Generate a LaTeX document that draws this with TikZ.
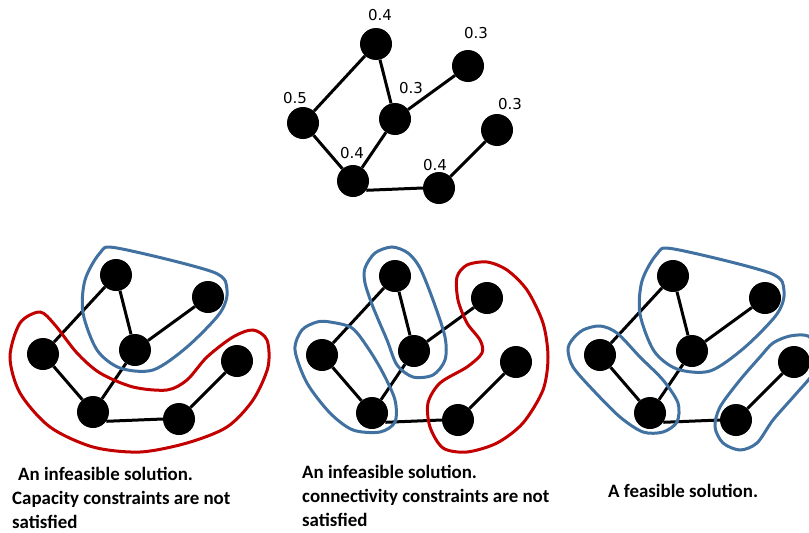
\documentclass[tikz,border=0pt]{standalone}
\usepackage{fontspec}
\setmainfont{Carlito}
\newfontfamily\labfont{DejaVu Sans}
\definecolor{blobblue}{RGB}{65,113,160}
\definecolor{blobred}{RGB}{195,0,0}
\tikzset{
  vtx/.style={circle, fill=black, minimum size=32pt, inner sep=0pt},
  edg/.style={line width=3pt, black},
  wlab/.style={font=\labfont\fontsize{15}{18}\selectfont, inner sep=0pt},
  bblob/.style={draw=blobblue, line width=3pt},
  rblob/.style={draw=blobred, line width=3pt},
  caption/.style={font=\bfseries\fontsize{18.9}{24}\selectfont, anchor=base west, inner sep=0pt},
}
\newcommand{\mygraph}[3]{%
  \begin{scope}[shift={(#2,#3)}]
    \node[vtx] (#1A) at (376,44) {};
    \node[vtx] (#1B) at (468,66) {};
    \node[vtx] (#1C) at (303,123) {};
    \node[vtx] (#1D) at (395,119) {};
    \node[vtx] (#1E) at (497,130) {};
    \node[vtx] (#1F) at (353,181) {};
    \node[vtx] (#1G) at (439,188) {};
    \draw[edg] (#1A) -- (#1C);
    \draw[edg] (#1A) -- (#1D);
    \draw[edg] (#1D) -- (#1B);
    \draw[edg] (#1C) -- (#1F);
    \draw[edg] (#1D) -- (#1F);
    \draw[edg] (#1F.-35) -- (#1G.west);
    \draw[edg] (#1G) -- (#1E);
  \end{scope}}
\begin{document}
\begin{tikzpicture}[x=1pt, y=-1pt]
\useasboundingbox (0,0) rectangle (809,533);
% top graph
\mygraph{t}{0}{0}
\node[wlab] (lA) at (380,15) {0.4};
\node[wlab] (lB) at (476,33) {0.3};
\node[wlab] (lC) at (295,98) {0.5};
\node[wlab] (lD) at (411,88) {0.3};
\node[wlab] (lE) at (510,104) {0.3};
\node[wlab] (lF) at (352,153) {0.4};
\node[wlab] (lG) at (435,165) {0.4};
% bottom graphs
\mygraph{a}{-260}{231}
\mygraph{b}{19}{232}
\mygraph{c}{297}{232}
% graph 1 blobs
\draw[bblob] plot[smooth cycle] coordinates {(100,253) (117,248) (213,272) (227,290) (220,313) (187,347) (153,370) (120,368) (97,350) (83,313) (85,280)};
\draw[rblob] plot[smooth cycle] coordinates {(40,312) (55,325) (77,353) (100,373) (133,387) (167,390) (187,380) (207,357) (233,337) (253,330) (267,340) (268,367) (253,400) (227,427) (187,443) (140,452) (93,447) (50,427) (20,393) (10,357) (20,323)};
% graph 2 blobs
\draw[bblob] plot[smooth cycle] coordinates {(330,322) (352,328) (368,348) (383,373) (395,400) (395,422) (380,432) (353,430) (330,413) (307,383) (295,350) (302,330) (317,322)};
\draw[bblob] plot[smooth cycle] coordinates {(365,268) (375,253) (392,247) (408,253) (420,268) (433,300) (445,337) (445,360) (433,375) (413,377) (397,365) (387,340) (373,307) (365,283)};
\draw[rblob] plot[smooth cycle] coordinates {(457,277) (467,265) (487,262) (507,270) (527,290) (543,323) (548,357) (543,390) (523,423) (497,443) (467,452) (443,448) (430,427) (428,403) (440,383) (467,367) (482,353) (480,340) (467,323) (458,300)};
% graph 3 blobs
\draw[bblob] plot[smooth cycle] coordinates {(657,254) (674,249) (770,273) (784,291) (777,314) (744,348) (710,371) (677,369) (654,351) (640,314) (642,281)};
\draw[bblob] plot[smooth cycle] coordinates {(572,340) (583,330) (600,326) (617,333) (640,357) (663,380) (678,403) (677,422) (663,432) (643,432) (620,417) (593,390) (573,367) (568,350)};
\draw[bblob] plot[smooth cycle] coordinates {(773,343) (790,336) (808,336) (818,350) (814,372) (795,395) (773,420) (757,443) (740,450) (723,443) (715,427) (720,407) (740,380) (760,357)};
% captions
\node[caption] (cap1a) at (18,480) {An infeasible solution.};
\node[caption] (cap1b) at (12,504) {Capacity constraints are not};
\node[caption] (cap1c) at (12,528) {satisfied};
\node[caption] (cap2a) at (302,478) {An infeasible solution.};
\node[caption] (cap2b) at (302,502) {connectivity constraints are not};
\node[caption] (cap2c) at (302,526) {satisfied};
\node[caption] (cap3) at (608,497) {A feasible solution.};
\end{tikzpicture}
\end{document}
